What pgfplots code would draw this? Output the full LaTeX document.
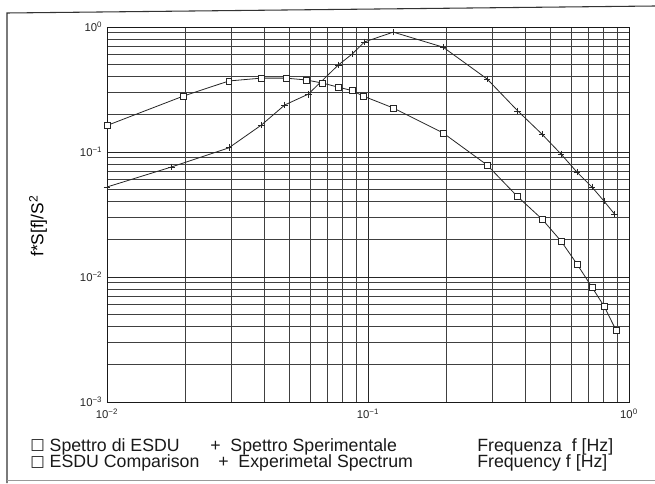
\documentclass[border=0pt]{standalone}
\usepackage{pgfplots}
\pgfplotsset{compat=1.18}
\usepackage{fontspec}
\setmainfont{Liberation Sans}
\newfontfamily\dejavu{DejaVu Sans}
\newcommand{\sq}{{\dejavu\fontsize{11.5}{12}\selectfont\raisebox{0.8pt}{□}}}

\begin{document}
\begin{tikzpicture}
\useasboundingbox (0,0) rectangle (491.25pt,362.25pt);
\begin{axis}[
  at={(80.25pt,60.75pt)}, anchor=south west,
  scale only axis, width=391.5pt, height=281.25pt,
  xmode=log, ymode=log,
  xmin=0.01, xmax=1, ymin=0.001, ymax=1,
  xtick={0.01,0.1,1}, ytick={0.001,0.01,0.1,1},
  minor xtick={0.02,0.03,0.04,0.05,0.06,0.07,0.08,0.09,0.2,0.3,0.4,0.5,0.6,0.7,0.8,0.9},
  minor ytick={0.002,0.003,0.004,0.005,0.006,0.007,0.008,0.009,0.02,0.03,0.04,0.05,0.06,0.07,0.08,0.09,0.2,0.3,0.4,0.5,0.6,0.7,0.8,0.9},
  xticklabels={10\textsuperscript{−2},10\textsuperscript{−1},10\textsuperscript{0}},
  yticklabels={10\textsuperscript{−3},10\textsuperscript{−2},10\textsuperscript{−1},10\textsuperscript{0}},
  ticklabel style={font=\fontsize{8.5}{9}\selectfont, black!85},
  xticklabel style={yshift=-2pt},
  grid=both,
  major grid style={black!85, line width=0.6pt},
  minor grid style={black!75, line width=0.45pt},
  axis line style={black!90, line width=0.7pt},
  tick style={draw=none},
  ylabel={f*S[f]/S\textsuperscript{2}},
  every axis y label/.style={at={(axis description cs:-0.132,0.469)}, rotate=90, anchor=center, font=\fontsize{13}{14}\selectfont},
]
\addplot[black!85, line width=0.6pt, mark=square*, mark size=2.2pt, mark options={fill=white, line width=0.5pt}] coordinates {
(0.01,0.163) (0.0196,0.28) (0.0293,0.37) (0.039,0.39) (0.0485,0.39)
(0.058,0.377) (0.067,0.356) (0.077,0.33) (0.087,0.31) (0.096,0.28)
(0.125,0.225) (0.194,0.142) (0.286,0.0787) (0.372,0.0445) (0.464,0.0291)
(0.549,0.0194) (0.632,0.0127) (0.721,0.0083) (0.802,0.00586) (0.891,0.00377)
};
\addplot[black!85, line width=0.6pt, mark=+, mark size=2.5pt, mark options={line width=0.5pt}] coordinates {
(0.01,0.0525) (0.0177,0.076) (0.0293,0.108) (0.039,0.164) (0.048,0.238)
(0.059,0.29) (0.077,0.497) (0.087,0.608) (0.097,0.76) (0.125,0.91)
(0.194,0.69) (0.286,0.384) (0.375,0.213) (0.464,0.139) (0.549,0.0963)
(0.632,0.069) (0.721,0.0525) (0.802,0.0405) (0.88,0.0319)
};
\end{axis}
% outer frame
\draw[black!80, line width=0.8pt] (491.25pt,357.75pt) -- (5.25pt,352.5pt) -- (5.25pt,0pt);
\draw[black!40, line width=0.5pt] (5.25pt,2.25pt) -- (491.25pt,2.25pt);
% legend texts
\begin{scope}[every node/.style={anchor=base west, inner sep=0pt, font=\fontsize{13.3}{14}\selectfont, black!90}]
\node at (22.5pt,24pt) {\sq\ Spettro di ESDU};
\node at (22.5pt,11.5pt) {\sq\ ESDU Comparison};
\node at (157.5pt,24pt) {+\ \ Spettro Sperimentale};
\node at (163.5pt,11.5pt) {+\ \ Experimetal Spectrum};
\node at (357.75pt,24pt) {Frequenza\ \ f [Hz]};
\node at (357.75pt,11.5pt) {Frequency\ f [Hz]};
\end{scope}
\end{tikzpicture}
\end{document}
